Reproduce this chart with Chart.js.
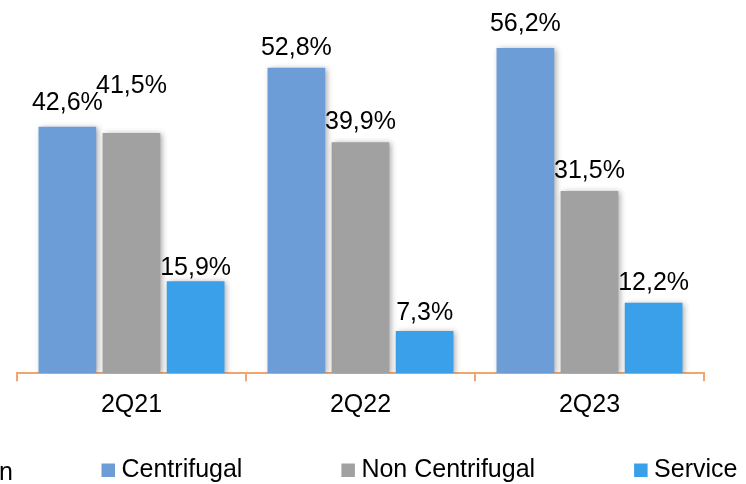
<!DOCTYPE html>
<html>
<head>
<meta charset="utf-8">
<script src="https://cdn.jsdelivr.net/npm/chart.js@4.4.0/dist/chart.umd.min.js"></script>
<style>
  body { margin: 0; background: #fff; }
  #wrap { width: 746px; height: 484px; position: relative; }
</style>
</head>
<body>
<div id="wrap"><canvas id="mixChart"></canvas></div>
<script>
// data
var quarters = ['2Q21', '2Q22', '2Q23'];
var centrifugal = [42.6, 52.8, 56.2];
var nonCentrifugal = [41.5, 39.9, 31.5];
var service = [15.9, 7.3, 12.2];

// label lift above each bar (px), one row per series
var labelLift = [
  [17, 13, 17],
  [40, 13, 13],
  [6, 11, 13]
];

var FONT = '"Liberation Sans", Arial, sans-serif';
var orange = 'rgb(244,164,110)';

//soft shadow behind the bars
var barShadow = {
  id: 'barShadow',
  beforeDatasetsDraw: function (chart) {
    var c = chart.ctx;
    c.save();
    c.shadowColor = 'rgba(0,0,0,0.35)';
    c.shadowBlur = 6;
    c.shadowOffsetX = 2;
    c.shadowOffsetY = 1;
  },
  afterDatasetsDraw: function (chart) {
    chart.ctx.restore();
  }
};

//value labels over the bars
var valueLabels = {
  id: 'valueLabels',
  afterDatasetsDraw: function (chart) {
    var c = chart.ctx;
    c.save();
    c.font = '25px ' + FONT;
    c.fillStyle = '#000';
    c.textAlign = 'center';
    c.textBaseline = 'alphabetic';
    chart.data.datasets.forEach(function (ds, i) {
      chart.getDatasetMeta(i).data.forEach(function (bar, j) {
        var txt = ds.data[j].toFixed(1).replace('.', ',') + '%';
        c.fillText(txt, bar.x, bar.y - labelLift[i][j]);
      });
    });
    c.restore();
  }
};

//legend row at the bottom
var bottomLegend = {
  id: 'bottomLegend',
  afterDraw: function (chart) {
    var c = chart.ctx;
    c.save();
    c.font = '25px ' + FONT;
    c.textBaseline = 'alphabetic';
    c.textAlign = 'left';
    var x = 101.5;
    var base = 477;
    chart.data.datasets.forEach(function (ds) {
      c.fillStyle = ds.backgroundColor;
      c.fillRect(x, base - 13.5, 13.5, 13.5);
      c.fillStyle = '#000';
      c.fillText(ds.label, x + 20, base);
      x += 20 + c.measureText(ds.label).width + 99;
    });
    // clipped text at the left edge
    c.textAlign = 'right';
    c.fillText('n', 13, 480);
    c.restore();
  }
};

var ctx = document.getElementById('mixChart');
var myChart = new Chart(ctx, {
  type: 'bar',
  data: {
    labels: quarters,
    datasets: [
      { label: 'Centrifugal', data: centrifugal, backgroundColor: 'rgb(109,157,214)' },
      { label: 'Non Centrifugal', data: nonCentrifugal, backgroundColor: 'rgb(160,161,160)' },
      { label: 'Service', data: service, backgroundColor: 'rgb(58,160,233)' }
    ]
  },
  options: {
    responsive: true,
    maintainAspectRatio: false,
    animation: false,
    layout: { padding: { left: 17, right: 42, top: 4, bottom: 0 } },
    datasets: { bar: { categoryPercentage: 0.84, barPercentage: 0.9 } },
    plugins: {
      legend: { display: false },
      tooltip: { enabled: false }
    },
    scales: {
      x: {
        offset: true,
        grid: {
          offset: true,
          drawOnChartArea: false,
          drawTicks: true,
          tickLength: 8,
          color: orange,
          lineWidth: 2
        },
        border: { display: true, color: orange, width: 2 },
        ticks: { color: '#000', font: { family: FONT, size: 25 }, padding: 9 },
        afterFit: function (scale) { scale.height = 110.7; }
      },
      y: {
        display: false,
        min: 0,
        max: 63.8
      }
    }
  },
  plugins: [barShadow, valueLabels, bottomLegend]
});
</script>
</body>
</html>
